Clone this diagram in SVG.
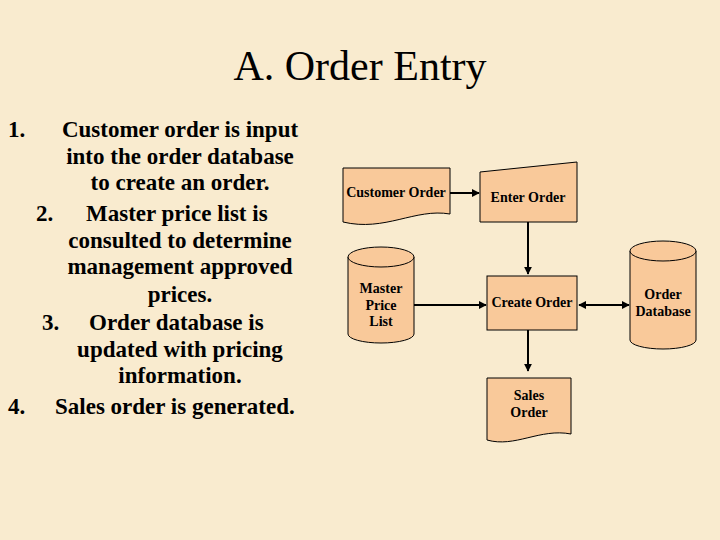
<svg xmlns="http://www.w3.org/2000/svg" width="720" height="540" viewBox="0 0 720 540">
<style>
.s{fill:#F9C99A;stroke:#000;stroke-width:1}
.l{font-family:"Liberation Serif",serif;font-size:14px;font-weight:bold;fill:#000;text-anchor:middle}
.b{font-family:"Liberation Serif",serif;font-size:23px;font-weight:bold;fill:#000;text-anchor:middle}
.n{font-family:"Liberation Serif",serif;font-size:23px;font-weight:bold;fill:#000}
.c{stroke:#000;stroke-width:2;fill:none;marker-end:url(#a)}
</style>
<defs><marker id="a" viewBox="0 0 10 10" refX="9" refY="5" markerWidth="4" markerHeight="4" orient="auto-start-reverse"><path d="M0,0L10,5L0,10z" fill="#000"/></marker></defs>
<rect width="720" height="540" fill="#F9EBCF"/>
<text x="360" y="80" font-family="Liberation Serif,serif" font-size="42" text-anchor="middle">A. Order Entry</text>
<g id="text">
<text class="n" x="8" y="137">1.</text>
<text class="b" x="180" y="137">Customer order is input</text>
<text class="b" x="180" y="164">into the order database</text>
<text class="b" x="180" y="190">to create an order.</text>
<text class="n" x="36" y="221">2.</text>
<text class="n" x="86" y="221">Master price list is</text>
<text class="b" x="180" y="248">consulted to determine</text>
<text class="b" x="180" y="274">management approved</text>
<text class="b" x="180" y="302">prices.</text>
<text class="n" x="42" y="330">3.</text>
<text class="n" x="89" y="330">Order database is</text>
<text class="b" x="180" y="357">updated with pricing</text>
<text class="b" x="180" y="383">information.</text>
<text class="n" x="8" y="414">4.</text>
<text class="n" x="55" y="414">Sales order is generated.</text>
</g>
<g id="connectors">
<path class="c" d="M450,193H479"/>
<path class="c" d="M528,222V274"/>
<path class="c" d="M414,305H486"/>
<path class="c" d="M579,305H629" marker-start="url(#a)"/>
<path class="c" d="M528,330V371"/>
</g>
<g id="customer"><path class="s" d="M343,168H450V214C415,208 385,232 343,222Z"/><text class="l" x="396" y="197">Customer Order</text></g>
<g id="enter"><path class="s" d="M480,172L577,162V222H480Z"/><text class="l" x="528" y="202">Enter Order</text></g>
<g id="create"><rect class="s" x="487" y="276" width="90" height="54"/><text class="l" x="532" y="307">Create Order</text></g>
<g id="master"><path class="s" d="M348,257V334A33,9 0 0 0 414,334V257"/><ellipse class="s" cx="381" cy="257" rx="33" ry="10"/><text class="l" x="381" y="293">Master</text><text class="l" x="381" y="310">Price</text><text class="l" x="381" y="326">List</text></g>
<g id="db"><path class="s" d="M630,251V340A33,9 0 0 0 696,340V251"/><ellipse class="s" cx="663" cy="251" rx="33" ry="10"/><text class="l" x="663" y="299">Order</text><text class="l" x="663" y="316">Database</text></g>
<g id="sales"><path class="s" d="M487,378H571V434C540,428 515,448 487,440Z"/><text class="l" x="529" y="400">Sales</text><text class="l" x="529" y="417">Order</text></g>
</svg>
